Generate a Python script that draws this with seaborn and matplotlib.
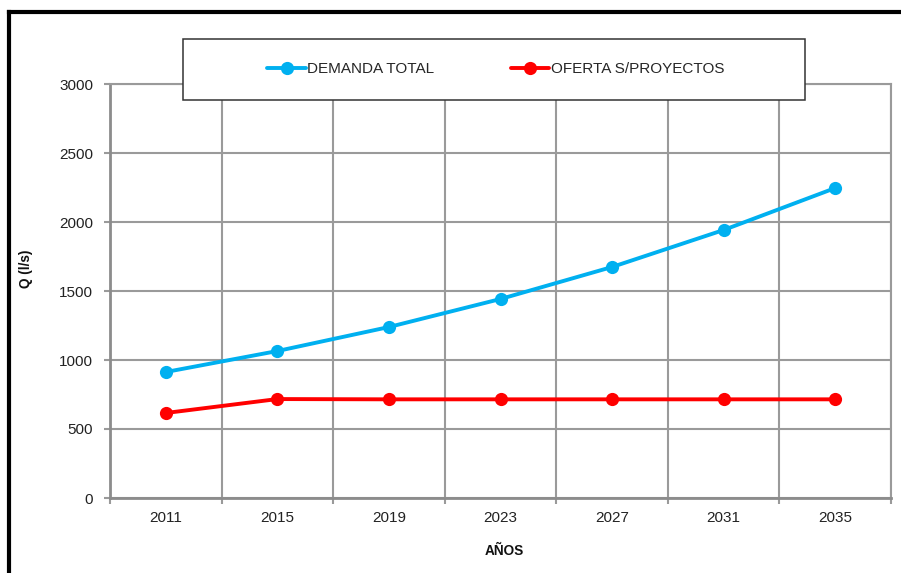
import matplotlib
matplotlib.use("Agg")
import matplotlib.pyplot as plt
from matplotlib.lines import Line2D
from matplotlib.patches import Rectangle
import seaborn as sns
import pandas as pd

years = [2011, 2015, 2019, 2023, 2027, 2031, 2035]
demanda_total = [913, 1065, 1239, 1442, 1674, 1942, 2246]
oferta_sp = [616, 717, 715, 715, 715, 715, 715]
series_names = ["DEMANDA TOTAL", "OFERTA S/PROYECTOS"]
series_colors = ["#00B0F0", "#FF0000"]
y_ticks = [0, 500, 1000, 1500, 2000, 2500, 3000]

df = pd.DataFrame({
    "year": years * 2,
    "Q": demanda_total + oferta_sp,
    "serie": [series_names[0]] * len(years) + [series_names[1]] * len(years),
})

sns.set_theme(style="white")
plt.rcParams["font.family"] = ["Liberation Sans", "DejaVu Sans"]

W, H = 901, 573
fig = plt.figure(figsize=(W / 100, H / 100), dpi=100)
ax = fig.add_axes([110 / W, 1 - 498 / H, 781 / W, 414 / H])

sns.lineplot(data=df, x="year", y="Q", hue="serie", hue_order=series_names,
             palette=series_colors, marker="o", markersize=9.5,
             markeredgewidth=0, linewidth=2.8, ax=ax, zorder=3)

handles, labels = ax.get_legend_handles_labels()
ax.get_legend().remove()

step = years[1] - years[0]
bounds = [years[0] - step / 2 + i * step for i in range(len(years) + 1)]
ax.set_xlim(bounds[0], bounds[-1])
ax.set_ylim(y_ticks[0], y_ticks[-1])
ax.set_xticks(bounds)
ax.set_xticklabels([])
ax.set_xticks(years, minor=True)
ax.set_xticklabels([str(y) for y in years], minor=True)
ax.set_yticks(y_ticks)
ax.set_yticklabels([str(v) for v in y_ticks])

gc = "#9A9A9A"
ax.grid(True, which="major", color=gc, linewidth=1.5)
for s in ax.spines.values():
    s.set_color(gc)
    s.set_linewidth(1.5)
ax.spines["left"].set_color("#8C8C8C")
ax.spines["bottom"].set_color("#8C8C8C")
ax.spines["left"].set_linewidth(2)
ax.spines["bottom"].set_linewidth(2)

ax.tick_params(axis="y", which="major", direction="out", length=4, width=1.5,
               color=gc, pad=8, labelsize=11, labelcolor="#222222", left=True)
ax.tick_params(axis="x", which="major", direction="out", length=4, width=1.5,
               color=gc, bottom=True)
ax.tick_params(axis="x", which="minor", length=0, pad=9, labelsize=11,
               labelcolor="#222222", bottom=True)

ax.set_xlabel("AÑOS", fontsize=9.8, fontweight="bold", color="#111111")
ax.set_ylabel("Q (l/s)", fontsize=9.8, fontweight="bold", color="#111111")
ax.xaxis.set_label_coords((504 - 110) / 781, (498 - 551) / 414)
ax.xaxis.label.set_verticalalignment("center")
ax.yaxis.set_label_coords((33 - 110) / 781, (498 - 269) / 414)

# legend box
fig.add_artist(Rectangle((183 / W, 1 - 100 / H), 622 / W, 61 / H,
                         transform=fig.transFigure, facecolor="white",
                         edgecolor="#333333", linewidth=1.1, zorder=4))
leg = fig.legend(handles, labels, loc="center", bbox_to_anchor=(496 / W, 1 - 69 / H),
                 ncol=2, frameon=False, fontsize=11, handlelength=2.5,
                 handletextpad=0.12, columnspacing=5.0, borderpad=0)
leg.set_zorder(5)

# outer black frame
fig.add_artist(Line2D([9 / W, 9 / W], [0, 1 - 11.5 / H], transform=fig.transFigure,
                      color="black", linewidth=3, solid_capstyle="projecting"))
fig.add_artist(Line2D([9 / W, 1], [1 - 11.5 / H, 1 - 11.5 / H], transform=fig.transFigure,
                      color="black", linewidth=3, solid_capstyle="projecting"))

fig.savefig("out.png", dpi=100)
